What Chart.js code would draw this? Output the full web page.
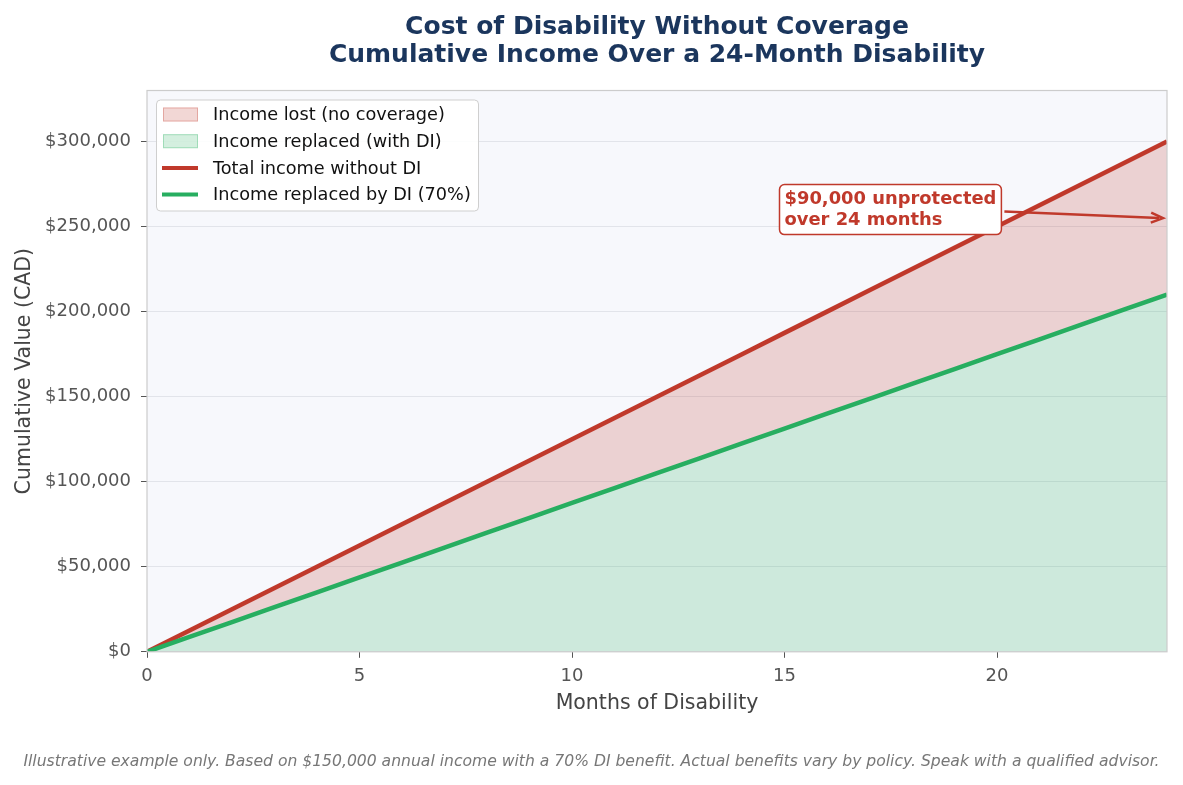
<!DOCTYPE html>
<html>
<head>
<meta charset="utf-8">
<script src="https://cdn.jsdelivr.net/npm/chart.js@4.4.0/dist/chart.umd.min.js"></script>
<style>
  html, body { margin: 0; padding: 0; background: #ffffff; }
  #wrap { width: 1183px; height: 785px; }
</style>
</head>
<body>
<div id="wrap"><canvas id="diChart" width="1183" height="785"></canvas></div>
<script>
// ---- data ----
const months = [0, 1, 2, 3, 4, 5, 6, 7, 8, 9, 10, 11, 12, 13, 14, 15, 16, 17, 18, 19, 20, 21, 22, 23, 24];
const totalIncome = [0, 12500, 25000, 37500, 50000, 62500, 75000, 87500, 100000, 112500, 125000, 137500,
    150000, 162500, 175000, 187500, 200000, 212500, 225000, 237500, 250000, 262500, 275000, 287500, 300000];
const diReplaced = [0, 8750, 17500, 26250, 35000, 43750, 52500, 61250, 70000, 78750, 87500, 96250,
    105000, 113750, 122500, 131250, 140000, 148750, 157500, 166250, 175000, 183750, 192500, 201250, 210000];

const yTickValues = [0, 50000, 100000, 150000, 200000, 250000, 300000];
const yTickLabels = ['$0', '$50,000', '$100,000', '$150,000', '$200,000', '$250,000', '$300,000'];
const xTickValues = [0, 5, 10, 15, 20];

const legendItems = [
    { type: 'patch', label: 'Income lost (no coverage)', fill: 'rgba(192, 57, 43, 0.2)', stroke: 'rgba(192, 57, 43, 0.3)' },
    { type: 'patch', label: 'Income replaced (with DI)', fill: 'rgba(39, 174, 96, 0.2)', stroke: 'rgba(39, 174, 96, 0.3)' },
    { type: 'line', label: 'Total income without DI', color: '#c0392b' },
    { type: 'line', label: 'Income replaced by DI (70%)', color: '#27ae60' }
];

const noteLines = ['$90,000 unprotected', 'over 24 months'];
const noteAt = { x: 15, y: 260000 };
const arrowTo = { x: 24, y: 255000 };
const footerText = 'Illustrative example only. Based on $150,000 annual income with a 70% DI benefit. Actual benefits vary by policy. Speak with a qualified advisor.';

const FONT = "'DejaVu Sans', sans-serif";
const RED = '#c0392b';
const GREEN = '#27ae60';

// ---- helper plugins ----
const plotFrame = {
    id: 'plotFrame',
    beforeDraw(chart) {
        const { ctx, chartArea: a } = chart;
        ctx.save();
        ctx.fillStyle = '#f7f8fc';
        ctx.fillRect(a.left, a.top, a.right - a.left, a.bottom - a.top);
        ctx.restore();
    },
    afterDatasetsDraw(chart) {
        const { ctx, chartArea: a } = chart;
        ctx.save();
        ctx.strokeStyle = '#cccccc';
        ctx.lineWidth = 1.2;
        ctx.strokeRect(a.left, a.top, a.right - a.left, a.bottom - a.top);
        ctx.restore();
    }
};

const extras = {
    id: 'extras',
    afterDraw(chart) {
        const { ctx, chartArea: a, scales } = chart;
        const xs = scales.x, ys = scales.y;

        // legend box, top left of the plot
        ctx.save();
        const lx = a.left + 9, ly = a.top + 9, lw = 322, lh = 111;
        ctx.fillStyle = 'rgba(255,255,255,0.9)';
        ctx.strokeStyle = '#cfcfcf';
        ctx.lineWidth = 1;
        ctx.beginPath();
        ctx.roundRect(lx + 0.5, ly + 0.5, lw, lh, 4);
        ctx.fill();
        ctx.stroke();
        ctx.font = '17.7px ' + FONT;
        ctx.textBaseline = 'middle';
        legendItems.forEach((it, i) => {
            const cy = ly + 15 + i * 26.7;
            if (it.type === 'patch') {
                ctx.fillStyle = it.fill;
                ctx.fillRect(lx + 7, cy - 7, 35, 14);
                ctx.strokeStyle = it.stroke;
                ctx.strokeRect(lx + 7.5, cy - 6.5, 34, 13);
            } else {
                ctx.strokeStyle = it.color;
                ctx.lineWidth = 4;
                ctx.beginPath();
                ctx.moveTo(lx + 6, cy);
                ctx.lineTo(lx + 42, cy);
                ctx.stroke();
                ctx.lineWidth = 1;
            }
            ctx.fillStyle = '#111111';
            ctx.fillText(it.label, lx + 57, cy + 1);
        });
        ctx.restore();

        // callout note with arrow
        ctx.save();
        ctx.font = 'bold 17.9px ' + FONT;
        const tx = xs.getPixelForValue(noteAt.x);
        const ty = ys.getPixelForValue(noteAt.y);
        const lineH = 21;
        const w = Math.max(...noteLines.map(s => ctx.measureText(s).width));
        const bx = tx - 5, by = ty - lineH - 4, bw = w + 10, bh = lineH * 2 + 8;
        const ax = xs.getPixelForValue(arrowTo.x) - 4;
        const ay = ys.getPixelForValue(arrowTo.y);
        ctx.strokeStyle = RED;
        ctx.fillStyle = RED;
        ctx.lineWidth = 2.5;
        ctx.beginPath();
        ctx.moveTo(bx + bw + 3, ty + 2);
        ctx.lineTo(ax - 4, ay);
        ctx.stroke();
        const ang = Math.atan2(ay - (ty + 2), ax - (bx + bw + 3));
        ctx.beginPath();
        ctx.moveTo(ax - 12 * Math.cos(ang) - 5 * Math.sin(ang), ay - 12 * Math.sin(ang) + 5 * Math.cos(ang));
        ctx.lineTo(ax, ay);
        ctx.lineTo(ax - 12 * Math.cos(ang) + 5 * Math.sin(ang), ay - 12 * Math.sin(ang) - 5 * Math.cos(ang));
        ctx.stroke();
        ctx.fillStyle = '#ffffff';
        ctx.lineWidth = 1.5;
        ctx.beginPath();
        ctx.roundRect(bx, by, bw, bh, 5);
        ctx.fill();
        ctx.stroke();
        ctx.fillStyle = RED;
        ctx.textBaseline = 'middle';
        noteLines.forEach((s, i) => ctx.fillText(s, tx, ty - lineH / 2 + i * lineH));
        ctx.restore();

        // footer note
        ctx.save();
        ctx.font = 'italic 15.6px ' + FONT;
        ctx.fillStyle = '#777777';
        ctx.textAlign = 'center';
        ctx.textBaseline = 'middle';
        ctx.fillText(footerText, chart.width / 2, 762);
        ctx.restore();
    }
};

// ---- chart ----
const ctx = document.getElementById('diChart').getContext('2d');
new Chart(ctx, {
    type: 'line',
    data: {
        labels: months,
        datasets: [
            {
                label: 'Income replaced by DI (70%)',
                data: months.map((m, i) => ({ x: m, y: diReplaced[i] })),
                borderColor: GREEN,
                borderWidth: 4.5,
                backgroundColor: 'rgba(39, 174, 96, 0.2)',
                fill: 'origin',
                pointRadius: 0,
                tension: 0
            },
            {
                label: 'Total income without DI',
                data: months.map((m, i) => ({ x: m, y: totalIncome[i] })),
                borderColor: RED,
                borderWidth: 4.5,
                backgroundColor: 'rgba(192, 57, 43, 0.2)',
                fill: '-1',
                pointRadius: 0,
                tension: 0
            }
        ]
    },
    options: {
        responsive: false,
        animation: false,
        devicePixelRatio: 1,
        layout: { padding: { left: 0, right: 16, top: 0, bottom: 69 } },
        plugins: {
            legend: { display: false },
            tooltip: { enabled: false },
            title: {
                display: true,
                fullSize: false,
                text: ['Cost of Disability Without Coverage', 'Cumulative Income Over a 24-Month Disability'],
                color: '#1b365d',
                font: { family: FONT, size: 25, weight: 'bold', lineHeight: 1.13 },
                padding: { top: 13, bottom: 21 }
            }
        },
        scales: {
            x: {
                type: 'linear',
                min: 0,
                max: 24,
                afterBuildTicks: (s) => { s.ticks = xTickValues.map(v => ({ value: v })); },
                ticks: {
                    color: '#555555',
                    font: { family: FONT, size: 18 },
                    padding: 8,
                    maxRotation: 0,
                    callback: (v) => String(v)
                },
                grid: { display: true, drawOnChartArea: false, tickColor: '#555555', tickLength: 6 },
                border: { display: false },
                title: {
                    display: true,
                    text: 'Months of Disability',
                    color: '#444444',
                    font: { family: FONT, size: 20.5 },
                    padding: { top: -4, bottom: 0 }
                }
            },
            y: {
                min: 0,
                max: 330000,
                afterBuildTicks: (s) => { s.ticks = yTickValues.map(v => ({ value: v })); },
                afterFit: (s) => { s.width = 147; },
                ticks: {
                    color: '#555555',
                    font: { family: FONT, size: 18 },
                    padding: 10,
                    callback: (v) => yTickLabels[yTickValues.indexOf(v)]
                },
                grid: { color: '#e2e4ea', lineWidth: 1, tickColor: '#555555', tickLength: 6 },
                border: { display: false },
                title: {
                    display: true,
                    text: 'Cumulative Value (CAD)',
                    color: '#444444',
                    font: { family: FONT, size: 20.5 },
                    padding: { top: 12, bottom: 0 }
                }
            }
        }
    },
    plugins: [plotFrame, extras]
});
</script>
</body>
</html>
